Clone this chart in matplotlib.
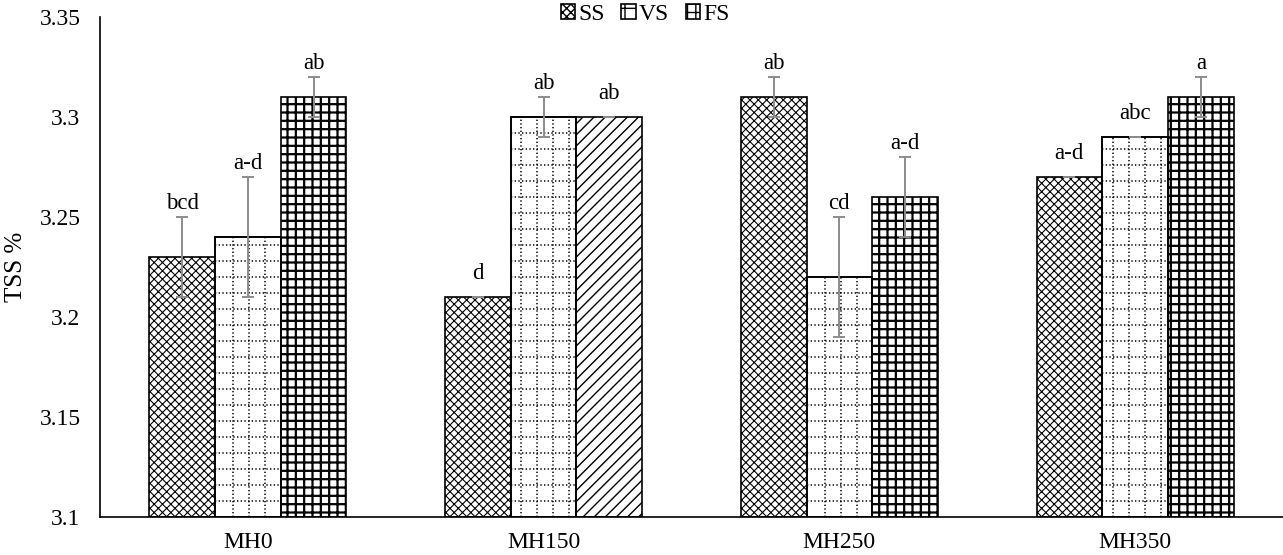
import matplotlib
matplotlib.use('Agg')
import matplotlib.pyplot as plt
import numpy as np
from matplotlib.patches import Rectangle

categories = ['MH0', 'MH150', 'MH250', 'MH350']
series = ['SS', 'VS', 'FS']
ss = [3.23, 3.21, 3.31, 3.27]
vs = [3.24, 3.30, 3.22, 3.29]
fs = [3.31, 3.30, 3.26, 3.31]
ss_err = [0.02, 0.0, 0.01, 0.0]
vs_err = [0.03, 0.01, 0.03, 0.0]
fs_err = [0.01, 0.0, 0.02, 0.01]
ss_letters = ['bcd', 'd', 'ab', 'a-d']
vs_letters = ['a-d', 'ab', 'cd', 'abc']
fs_letters = ['ab', 'ab', 'a-d', 'a']
yticks = [3.1, 3.15, 3.2, 3.25, 3.3, 3.35]

# styles
ss_hatch = ['xxxx'] * 4
vs_hatch = ['dots'] * 4
fs_hatch = ['++', '///', '++', '++']
hatch_lw = {'xxxx': 0.8, '++': 1.6, '///': 1.0}

plt.rcParams['font.family'] = ['Liberation Serif', 'DejaVu Serif']
FS = 17

fig = plt.figure(figsize=(12.83, 5.55), dpi=100)
W, H = 1283, 555
ax = fig.add_axes([100 / W, 38 / H, 1183 / W, 500 / H])
ax.set_xlim(-0.5, 3.5)
ax.set_ylim(3.1, 3.35)

x = np.arange(len(categories))
w = 1 / 4.5
offsets = [-w, 0, w]
data = [ss, vs, fs]
errs = [ss_err, vs_err, fs_err]
letters = [ss_letters, vs_letters, fs_letters]
hatches = [ss_hatch, vs_hatch, fs_hatch]

# pixel-to-data conversion for dotted grid
px_per_x = 1183 / 4.0
px_per_y = 500 / 0.25
dx = 16 / px_per_x
dy = 16 / px_per_y

for si in range(3):
    for ci in range(len(categories)):
        xc = x[ci] + offsets[si]
        val = data[si][ci]
        h = hatches[si][ci]
        bar = ax.bar(xc, val - 3.1, bottom=3.1, width=w, color='white',
                     edgecolor='black', linewidth=1.2,
                     hatch=None if h == 'dots' else h, zorder=2)[0]
        if h != 'dots':
            try:
                bar.set_hatch_linewidth(hatch_lw[h])
            except Exception:
                pass
        else:
            x0, x1 = xc - w / 2, xc + w / 2
            xs = np.arange(np.ceil((x0 + 0.5) / dx) * dx - 0.5 + dx * 0.3, x1, dx)
            ys = np.arange(3.1 + dy, val, dy)
            vl = ax.vlines(xs, 3.1, val, colors='black', linewidth=1.1,
                           linestyles=(0, (0.9, 1.5)), zorder=2.5)
            hl = ax.hlines(ys, x0, x1, colors='black', linewidth=1.1,
                           linestyles=(0, (0.9, 1.5)), zorder=2.5)
            vl.set_clip_path(bar)
            hl.set_clip_path(bar)
            ax.bar(xc, val - 3.1, bottom=3.1, width=w, color='none',
                   edgecolor='black', linewidth=1.2, zorder=3)
        e = errs[si][ci]
        ax.errorbar(xc, val, yerr=e, fmt='none', ecolor='#8c8c8c',
                    elinewidth=1.4, capsize=4.5, capthick=1.4, zorder=4)
        off = 9.5 if e > 0 else 17
        ax.annotate(letters[si][ci], (xc, val + e), xytext=(0, off),
                    textcoords='offset points', ha='center', va='center',
                    fontsize=FS - 0.5, zorder=5)

ax.set_xticks(x)
ax.set_xticklabels(categories, fontsize=FS)
ax.set_yticks(yticks)
ax.set_yticklabels([f'{v:g}' for v in yticks], fontsize=FS)
ax.tick_params(axis='both', length=0)
ax.tick_params(axis='y', pad=14)
ax.tick_params(axis='x', pad=11)
for s in ['top', 'right']:
    ax.spines[s].set_visible(False)
for s in ['left', 'bottom']:
    ax.spines[s].set_color('black')
    ax.spines[s].set_linewidth(1.2)
    ax.spines[s].set_zorder(6)

ax.set_ylabel('TSS %', fontsize=FS + 1)
ax.yaxis.set_label_coords((27 - 100) / 1183, 0.5)

handles = []
for hh in ['xxxx', '+', '++']:
    handles.append(Rectangle((0, 0), 1, 1, facecolor='white', edgecolor='black',
                             linewidth=1.2, hatch=hh))
fig.legend(handles, series, loc='upper center', bbox_to_anchor=(0.503, 1.01),
           ncol=3, frameon=False, handlelength=0.6, handleheight=0.6,
           handletextpad=0.15, columnspacing=0.7, fontsize=FS, borderaxespad=0)

fig.savefig('out.png', dpi=100)
